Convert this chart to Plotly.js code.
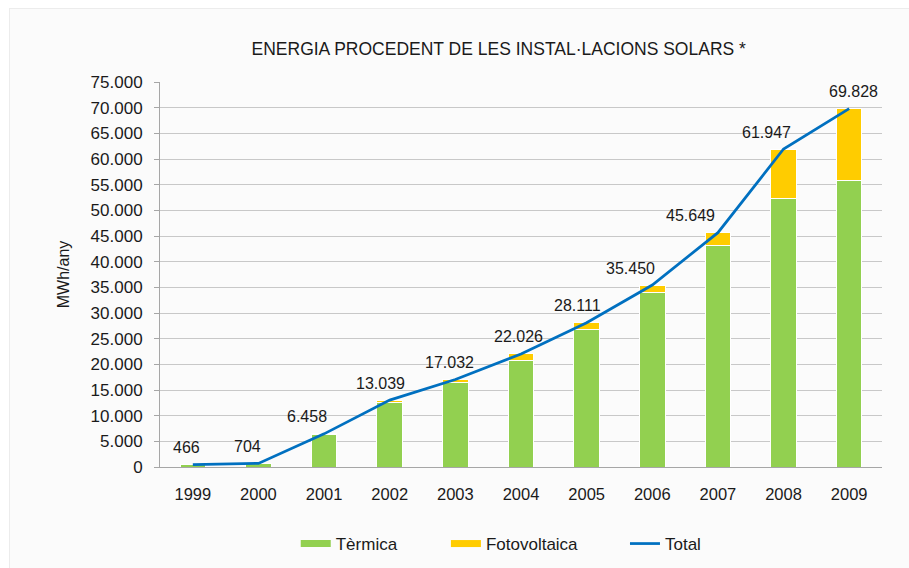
<!DOCTYPE html>
<html>
<head>
<meta charset="utf-8">
<script src="https://cdn.plot.ly/plotly-3.0.1.min.js"></script>
<style>
  html, body { margin: 0; padding: 0; background: #ffffff; overflow: hidden; }
  #chart { position: absolute; left: 9px; top: 8px; width: 900px; height: 560px;
           background: #fbfbfb; border-left: 1px solid #ececec; border-top: 1px solid #ececec; }
</style>
</head>
<body>
<div id="chart"></div>
<script>
const years = ['1999','2000','2001','2002','2003','2004','2005','2006','2007','2008','2009'];
const termica = [440, 670, 6400, 12660, 16500, 20800, 26800, 34000, 43200, 52300, 55900];
const fotovoltaica = [26, 34, 58, 379, 532, 1226, 1311, 1450, 2449, 9647, 13928];
const total = [466, 704, 6458, 13039, 17032, 22026, 28111, 35450, 45649, 61947, 69828];
const labelShiftX = [-6, -11, -17, -9, -6, -3, -9, -22, -27, -17, 4];

const FONT = 'Liberation Sans, Arial, sans-serif';
const GREEN = '#92d050', YELLOW = '#ffcc00', BLUE = '#0070c0';

const traces = [
  { type: 'bar', name: 'Tèrmica', x: years, y: termica, showlegend: false,
    marker: { color: GREEN, line: { color: '#ffffff', width: 1 } } },
  { type: 'bar', name: 'Fotovoltaica', x: years, y: fotovoltaica, showlegend: false,
    marker: { color: YELLOW, line: { color: '#ffffff', width: 1 } } },
  { type: 'scatter', mode: 'lines', name: 'Total', x: years, y: total, showlegend: false,
    line: { color: BLUE, width: 2.75 } },
  // legend entries (wide swatches like the original), one legend each for exact placement
  { type: 'scatter', mode: 'lines', name: 'Tèrmica', x: [years[0]], y: [null], legend: 'legend',
    line: { color: GREEN, width: 7 } },
  { type: 'scatter', mode: 'lines', name: 'Fotovoltaica', x: [years[0]], y: [null], legend: 'legend2',
    line: { color: YELLOW, width: 7 } },
  { type: 'scatter', mode: 'lines', name: 'Total', x: [years[0]], y: [null], legend: 'legend3',
    line: { color: BLUE, width: 2.75 } }
];

const annotations = years.map((yr, i) => ({
  x: i, y: total[i], xref: 'x', yref: 'y',
  text: total[i].toLocaleString('de-DE'),
  showarrow: false, xshift: labelShiftX[i], yshift: 17,
  font: { family: FONT, size: 16, color: '#1a1a1a' }
}));

const legendBase = {
  orientation: 'h', xanchor: 'left', y: -0.2, yanchor: 'middle',
  font: { family: FONT, size: 17, color: '#1a1a1a' }, bgcolor: 'rgba(0,0,0,0)'
};

const layout = {
  width: 900, height: 560,
  paper_bgcolor: '#fbfbfb', plot_bgcolor: '#fbfbfb',
  margin: { l: 150, r: 28, t: 73, b: 102, autoexpand: false },
  separators: ',.',
  font: { family: FONT, size: 17, color: '#1a1a1a' },
  title: { text: 'ENERGIA PROCEDENT DE LES INSTAL·LACIONS SOLARS *',
           font: { family: FONT, size: 17.5, color: '#1a1a1a' },
           x: 0.543, xanchor: 'center', y: 0.928, yanchor: 'middle' },
  barmode: 'stack', bargap: 0.61,
  xaxis: { type: 'category', range: [-0.5, 10.5], showgrid: false, showline: true, linecolor: '#a6a6a6', linewidth: 1,
           ticks: '', tickfont: { family: FONT, size: 16.5, color: '#1a1a1a' }, ticklabelstandoff: 12 },
  yaxis: { range: [0, 75000], dtick: 5000, tickformat: ',d', showgrid: true, gridcolor: '#c8c8c8', gridwidth: 1,
           showline: true, linecolor: '#a6a6a6', linewidth: 1, ticks: 'outside', ticklen: 5, tickcolor: '#a6a6a6',
           zeroline: false, tickfont: { family: FONT, size: 17, color: '#1a1a1a' }, ticklabelstandoff: 8,
           title: { text: 'MWh/any', font: { family: FONT, size: 16, color: '#1a1a1a' }, standoff: 16 } },
  legend: Object.assign({}, legendBase, { x: 0.188 }),
  legend2: Object.assign({}, legendBase, { x: 0.396 }),
  legend3: Object.assign({}, legendBase, { x: 0.644 }),
  annotations: annotations,
  showlegend: true
};

Plotly.newPlot('chart', traces, layout, { displayModeBar: false, staticPlot: true });
</script>
</body>
</html>
